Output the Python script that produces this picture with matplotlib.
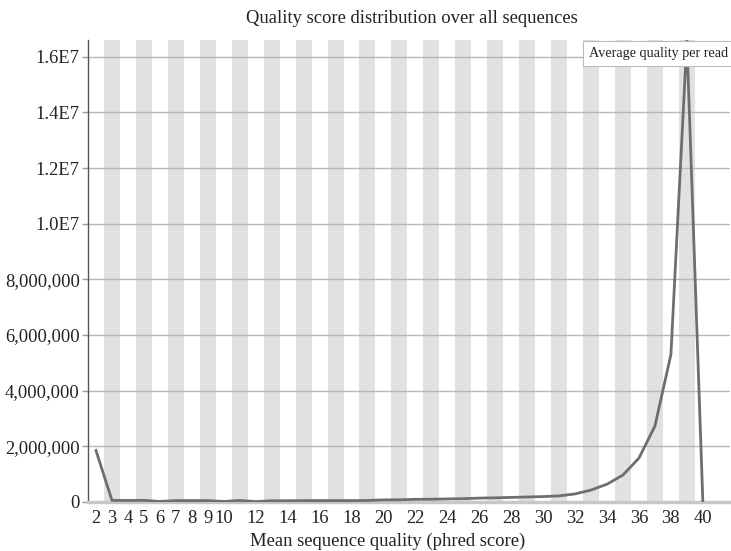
import matplotlib
matplotlib.use("Agg")
import matplotlib.pyplot as plt
from matplotlib.ticker import FuncFormatter

# Mean per-read quality (phred) and number of reads in each bin
quality = [2, 3, 4, 5, 6, 7, 8, 9, 10, 11, 12, 13, 14, 15, 16, 17, 18, 19, 20,
           21, 22, 23, 24, 25, 26, 27, 28, 29, 30, 31, 32, 33, 34, 35, 36, 37,
           38, 39, 40]
read_counts = [1850000, 60000, 55000, 60000, 20000, 50000, 50000, 50000, 20000,
               55000, 15000, 45000, 45000, 50000, 50000, 50000, 50000, 55000,
               75000, 80000, 95000, 100000, 110000, 120000, 140000, 150000,
               165000, 180000, 195000, 220000, 290000, 430000, 640000, 970000,
               1580000, 2730000, 5300000, 16600000, 0]
xtick_labels = [2, 3, 4, 5, 6, 7, 8, 9, 10, 12, 14, 16, 18, 20, 22, 24, 26,
                28, 30, 32, 34, 36, 38, 40]
ytick_values = [0, 2000000, 4000000, 6000000, 8000000, 10000000, 12000000,
                14000000, 16000000]

plt.rcParams['font.family'] = ['Liberation Serif', 'DejaVu Serif']

W, H = 731, 551
fig = plt.figure(figsize=(W / 100, H / 100), dpi=100)
left, right, top, bottom = 88, 730, 40, 502
ax = fig.add_axes([left / W, 1 - bottom / H, (right - left) / W, (bottom - top) / H])

# alternating shaded columns on odd quality bins
for q in quality:
    if q % 2 == 1:
        ax.axvspan(q - 0.5, q + 0.5, color='#dfe1e4', lw=0, zorder=0)

for v in ytick_values[1:]:
    ax.axhline(v, color='#b8b8b8', lw=1.0, zorder=1)

ax.plot(quality, read_counts, color='#6e6e6e', lw=2.0, zorder=3,
        solid_joinstyle='round')

ax.set_xlim(1.5, 41.7)
ax.set_ylim(0, 16600000)

ax.set_xticks(xtick_labels)
ax.set_xticklabels([str(x) for x in xtick_labels])
ax.set_yticks(ytick_values)


def fmt(v, pos):
    if v >= 1e7:
        return f"{v / 1e7:.1f}E7"
    return f"{int(v):,}"


ax.yaxis.set_major_formatter(FuncFormatter(fmt))
ax.tick_params(axis='x', length=0, pad=6, labelsize=13.3, colors='#222222')
ax.tick_params(axis='y', length=4, width=1, color='#999999', pad=2,
               labelsize=13.3, labelcolor='#222222')

for s in ('top', 'right'):
    ax.spines[s].set_visible(False)
ax.spines['left'].set_color('#555555')
ax.spines['left'].set_linewidth(1.0)
ax.spines['bottom'].set_color('#c8c8c8')
ax.spines['bottom'].set_linewidth(2.5)

ax.set_title('Quality score distribution over all sequences', fontsize=13.4,
             color='#222222', pad=12, x=0.505)
ax.set_xlabel('Mean sequence quality (phred score)', fontsize=13.4,
              color='#222222', labelpad=4, x=0.467)

ax.text(0.997, 0.985, 'Average quality per read', transform=ax.transAxes,
        ha='right', va='top', fontsize=10.2, color='#222222', zorder=5,
        bbox=dict(boxstyle='square,pad=0.45', fc='white', ec='#bbbbbb', lw=0.8),
        clip_on=False)

fig.savefig('out.png', dpi=100)
